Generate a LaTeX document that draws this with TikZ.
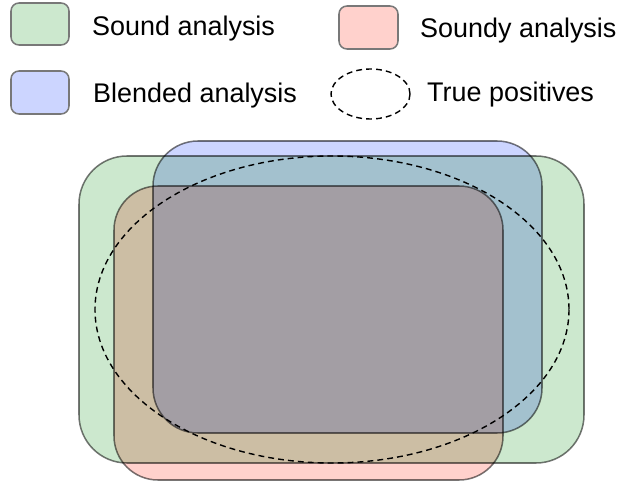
\documentclass[tikz,border=0pt]{standalone}
\usepackage{fontspec}
\setmainfont{Liberation Sans}
\definecolor{soundfill}{RGB}{204,232,206}
\definecolor{soundyfill}{RGB}{255,209,204}
\definecolor{blendfill}{RGB}{204,213,255}
\definecolor{edgegrey}{RGB}{120,120,120}

\begin{document}
\begin{tikzpicture}[x=0.03cm, y=-0.03cm,
    region/.style={draw=edgegrey, line width=1.3pt, blend mode=multiply},
    keybox/.style={draw=edgegrey, line width=1.3pt, rounded corners=0.24cm},
    keytext/.style={anchor=base west, inner sep=0pt, font=\fontsize{23}{28}\selectfont},
    truepos/.style={draw=black, line width=1.2pt, dash pattern=on 5pt off 3.5pt}]
    \useasboundingbox (0, 0) rectangle (617, 483);
    % legend
    \draw[keybox, fill=soundfill] (11, 3) rectangle (69, 45);
    \node[keytext] (soundtxt) at (92, 36) {Sound analysis};
    \draw[keybox, fill=soundyfill] (339, 6) rectangle (398, 49);
    \node[keytext] (soundytxt) at (420, 38) {Soundy analysis};
    \draw[keybox, fill=blendfill] (11, 71) rectangle (69, 114);
    \node[keytext] (blendtxt) at (93, 103) {Blended analysis};
    \draw[truepos] (370.5, 94) ellipse [x radius=39.5, y radius=25];
    \node[keytext] (truetxt) at (427, 102) {True positives};
    % overlapping analyses
    \draw[region, fill=soundfill, rounded corners=1.44cm] (79, 156) rectangle (584, 463);
    \draw[region, fill=blendfill, rounded corners=1.35cm] (153, 141) rectangle (542, 433);
    \draw[region, fill=soundyfill, rounded corners=1.32cm] (114, 186) rectangle (503, 480);
    \draw[truepos] (332, 309.5) ellipse [x radius=237, y radius=153.5];
\end{tikzpicture}
\end{document}
